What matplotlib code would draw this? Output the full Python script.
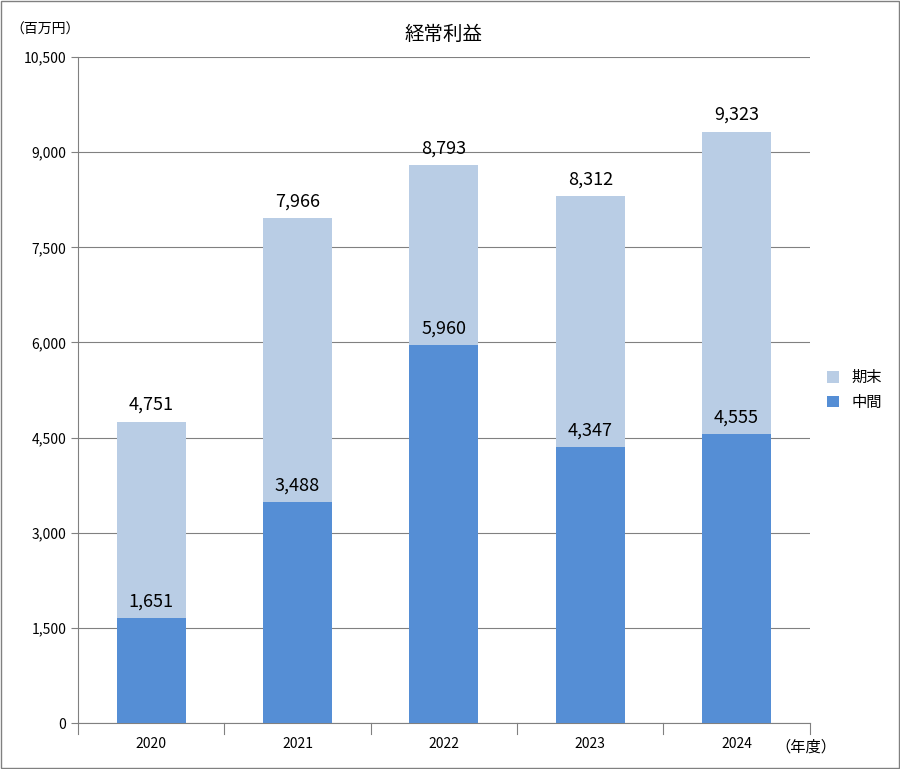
import matplotlib
matplotlib.use("Agg")
import matplotlib.pyplot as plt
from matplotlib.patches import Rectangle

plt.rcParams['font.family'] = ['Noto Sans CJK JP', 'DejaVu Sans']

years = ['2020', '2021', '2022', '2023', '2024']
interim = [1651, 3488, 5960, 4347, 4555]
total = [4751, 7966, 8793, 8312, 9323]
yticks = [0, 1500, 3000, 4500, 6000, 7500, 9000, 10500]

dark = '#558ED5'
light = '#B9CDE5'

fig = plt.figure(figsize=(9, 7.69), dpi=100)
ax = fig.add_axes([0.0867, 0.0598, 0.813, 0.866])
x = range(len(years))
rest = [t - i for t, i in zip(total, interim)]
ax.bar(x, interim, width=0.47, color=dark, label='中間', zorder=3)
ax.bar(x, rest, bottom=interim, width=0.47, color=light, label='期末', zorder=3)
for xi, i, t in zip(x, interim, total):
    ax.text(xi, i + 120, f'{i:,}', ha='center', va='bottom', fontsize=13, zorder=4)
    ax.text(xi, t + 120, f'{t:,}', ha='center', va='bottom', fontsize=13, zorder=4)

ax.set_ylim(0, 10500)
ax.set_xlim(-0.5, len(years) - 0.5)
ax.set_yticks(yticks)
ax.set_yticklabels([f'{v:,}' for v in yticks], fontsize=10)
ax.yaxis.grid(True, color='#808080', linewidth=0.8, zorder=0)
ax.set_xticks(list(x))
ax.set_xticklabels(years, fontsize=10)
ax.tick_params(axis='x', length=0, pad=10)
ax.tick_params(axis='y', length=5, color='#808080')
for b in [i - 0.5 for i in range(len(years) + 1)]:
    ax.plot([b, b], [0, -180], color='#808080', lw=0.8, clip_on=False)
for s in ['top', 'right']:
    ax.spines[s].set_visible(False)
ax.spines['left'].set_color('#808080')
ax.spines['bottom'].set_color('#808080')

ax.set_title('経常利益', fontsize=14, pad=12)
fig.text(0.012, 0.962, '（百万円）', fontsize=10, va='center')
fig.text(0.862, 0.028, '（年度）', fontsize=11, va='center')

h, l = ax.get_legend_handles_labels()
ax.legend(h[::-1], l[::-1], loc='center left', bbox_to_anchor=(1.005, 0.5),
          frameon=False, fontsize=11, handlelength=0.8, handleheight=0.8)

fig.add_artist(Rectangle((0.001, 0.001), 0.998, 0.998, transform=fig.transFigure,
                         fill=False, edgecolor='#808080', lw=1))
fig.savefig('out.png', dpi=100)
